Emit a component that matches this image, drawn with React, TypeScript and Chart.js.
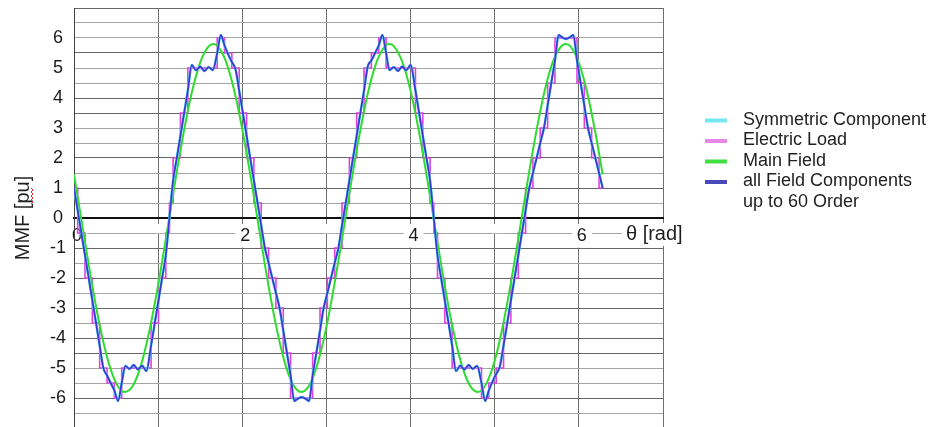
import React, { useEffect, useRef } from "react";
import { Chart, registerables } from "chart.js";

Chart.register(...registerables);

const FONT = '"Liberation Sans", Arial, Helvetica, sans-serif';

// ---- axis values ----
const thetaMin = 0;
const thetaMax = 7;
const thetaLabeled = [0, 2, 4, 6];
const mmfMin = -7;
const mmfMax = 7;
const mmfLabeled = [6, 5, 4, 3, 2, 1, 0, -1, -2, -3, -4, -5, -6];
const darkGridValues = [7, 5.5, 4, 3.5, 2, 1, -1, -2, -3, -4, -4.5, -6];

// ---- series names ----
const nameSymmetric = "Symmetric Component";
const nameLoad = "Electric Load";
const nameMain = "Main Field";
const nameAll = ["all Field Components", "up to 60 Order"];

// ---- Electric Load: staircase (theta where level changes, new level) ----
const loadSteps: [number, number][] = [
  [0.0, 1], [0.044, -0.5], [0.131, -2], [0.218, -3.5], [0.305, -5], [0.393, -5.5],
  [0.48, -6], [0.567, -5], [0.916, -3.5], [1.004, -2], [1.091, -0.5], [1.134, 0.5],
  [1.178, 2], [1.265, 3.5], [1.353, 5], [1.702, 6], [1.789, 5.5], [1.876, 5],
  [1.963, 3.5], [2.051, 2], [2.138, 0.5], [2.225, -1], [2.313, -2], [2.4, -3],
  [2.487, -4.5], [2.574, -6], [2.836, -4.5], [2.924, -3], [3.011, -2], [3.098, -1],
  [3.185, 0.5], [3.273, 2], [3.36, 3.5], [3.447, 5], [3.534, 5.5], [3.622, 6],
  [3.709, 5], [4.058, 3.5], [4.145, 2], [4.232, 0.5], [4.276, -0.5], [4.32, -2],
  [4.407, -3.5], [4.494, -5], [4.843, -6], [4.93, -5.5], [5.018, -5], [5.105, -3.5],
  [5.192, -2], [5.28, -0.5], [5.367, 1], [5.454, 2], [5.541, 3], [5.629, 4.5],
  [5.716, 6], [5.978, 4.5], [6.065, 3], [6.152, 2], [6.24, 1], [6.283, 1],
];

// ---- Main Field (theta, MMF) ----
const mainField: [number, number][] = [
  [0.0, 1.45], [0.1, -0.27], [0.2, -1.98], [0.3, -3.5], [0.4, -4.71], [0.5, -5.5],
  [0.6, -5.8], [0.7, -5.59], [0.8, -4.87], [0.9, -3.71], [1.0, -2.23], [1.1, -0.55],
  [1.2, 1.18], [1.3, 2.8], [1.4, 4.18], [1.5, 5.19], [1.6, 5.72], [1.655, 5.8],
  [1.7, 5.75], [1.8, 5.26], [1.9, 4.3], [2.0, 2.96], [2.1, 1.36], [2.2, -0.37],
  [2.3, -2.07], [2.4, -3.57], [2.5, -4.77], [2.6, -5.53], [2.7, -5.8], [2.8, -5.56],
  [2.9, -4.81], [3.0, -3.63], [3.1, -2.13], [3.2, -0.45], [3.3, 1.28], [3.4, 2.88],
  [3.5, 4.25], [3.6, 5.23], [3.7, 5.74], [3.75, 5.8], [3.8, 5.73], [3.9, 5.22],
  [4.0, 4.24], [4.1, 2.87], [4.2, 1.26], [4.3, -0.47], [4.4, -2.16], [4.5, -3.65],
  [4.6, -4.82], [4.7, -5.56], [4.8, -5.8], [4.9, -5.52], [5.0, -4.76], [5.1, -3.55],
  [5.2, -2.04], [5.3, -0.35], [5.4, 1.38], [5.5, 2.97], [5.6, 4.32], [5.7, 5.27],
  [5.8, 5.75], [5.845, 5.8], [5.9, 5.72], [6.0, 5.17], [6.1, 4.17], [6.2, 2.79],
  [6.283, 1.45],
];

// ---- all Field Components up to 60 Order (theta, MMF) ----
const allComponents: [number, number][] = [
  [0.0, 1.0], [0.044, 0.25], [0.087, -0.5], [0.131, -1.25], [0.175, -2.0], [0.218, -2.75],
  [0.262, -3.5], [0.305, -4.25], [0.349, -5.0], [0.393, -5.25], [0.436, -5.5], [0.48, -5.75],
  [0.524, -6.1], [0.567, -5.5], [0.61, -4.93], [0.66, -5.03], [0.71, -4.9], [0.76, -5.05],
  [0.81, -4.92], [0.86, -5.1], [0.916, -4.25], [0.96, -3.5], [1.004, -2.75], [1.047, -2.0],
  [1.091, -1.25], [1.134, 0.0], [1.178, 1.25], [1.222, 2.0], [1.265, 2.75], [1.309, 3.5],
  [1.353, 4.25], [1.4, 5.1], [1.45, 4.92], [1.5, 5.05], [1.55, 4.9], [1.6, 5.03],
  [1.65, 4.93], [1.702, 5.5], [1.745, 6.1], [1.789, 5.75], [1.833, 5.45], [1.876, 5.2],
  [1.92, 4.95], [1.963, 4.25], [2.007, 3.5], [2.051, 2.75], [2.094, 2.0], [2.138, 1.25],
  [2.182, 0.5], [2.225, -0.25], [2.269, -1.0], [2.313, -1.5], [2.356, -2.0], [2.4, -2.5],
  [2.443, -3.0], [2.487, -3.75], [2.531, -4.5], [2.574, -5.25], [2.618, -6.1], [2.662, -6.02],
  [2.705, -5.97], [2.749, -6.02], [2.793, -6.1], [2.836, -5.25], [2.88, -4.5], [2.924, -3.75],
  [2.967, -3.0], [3.011, -2.5], [3.054, -2.0], [3.098, -1.5], [3.142, -1.0], [3.185, -0.25],
  [3.229, 0.5], [3.273, 1.25], [3.316, 2.0], [3.36, 2.75], [3.403, 3.5], [3.447, 4.25],
  [3.491, 5.05], [3.534, 5.25], [3.578, 5.5], [3.622, 5.75], [3.665, 6.1], [3.709, 5.5],
  [3.75, 4.93], [3.8, 5.03], [3.85, 4.9], [3.9, 5.05], [3.95, 4.92], [4.0, 5.1],
  [4.058, 4.25], [4.102, 3.5], [4.145, 2.75], [4.189, 2.0], [4.232, 1.25], [4.276, 0.0],
  [4.32, -1.25], [4.363, -2.0], [4.407, -2.75], [4.451, -3.5], [4.494, -4.25], [4.54, -5.1],
  [4.59, -4.92], [4.64, -5.05], [4.69, -4.9], [4.74, -5.03], [4.79, -4.93], [4.843, -5.5],
  [4.887, -6.1], [4.93, -5.75], [4.974, -5.45], [5.018, -5.2], [5.061, -4.95], [5.105, -4.25],
  [5.149, -3.5], [5.192, -2.75], [5.236, -2.0], [5.28, -1.25], [5.323, -0.5], [5.367, 0.25],
  [5.411, 1.0], [5.454, 1.5], [5.498, 2.0], [5.541, 2.5], [5.585, 3.0], [5.629, 3.75],
  [5.672, 4.5], [5.716, 5.25], [5.76, 6.1], [5.803, 6.02], [5.847, 5.97], [5.89, 6.02],
  [5.934, 6.1], [5.978, 5.25], [6.021, 4.5], [6.065, 3.75], [6.109, 3.0], [6.152, 2.5],
  [6.196, 2.0], [6.24, 1.5], [6.283, 1.0],
];

// ---- colours ----
const colorSymmetric = "#66e4f0";
const colorLoad = "#e040e0";
const colorMain = "#2edc2e";
const colorAll = "#3a3ad2";

const toXY = (pts: [number, number][]) => pts.map(([x, y]) => ({ x, y }));

const legendEntries = [
  { lines: [nameSymmetric], color: colorSymmetric },
  { lines: [nameLoad], color: "#e27ae4" },
  { lines: [nameMain], color: colorMain },
  { lines: nameAll, color: "#3535b2" },
];

const overlayPlugin = {
  id: "overlay",
  afterDraw(chart: any) {
    const ctx = chart.ctx as CanvasRenderingContext2D;
    const xs = chart.scales.x;
    const ys = chart.scales.y;
    ctx.save();
    // x axis title with white box
    ctx.font = `20px ${FONT}`;
    const t = "θ [rad]";
    const tw = ctx.measureText(t).width;
    const tx = xs.getPixelForValue(6.56);
    const ty = ys.getPixelForValue(0) + 16;
    ctx.fillStyle = "#ffffff";
    ctx.fillRect(tx - 4, ty - 11, tw + 8, 23);
    ctx.fillStyle = "#1e1e1e";
    ctx.textBaseline = "middle";
    ctx.textAlign = "left";
    ctx.fillText(t, tx, ty);

    // legend
    ctx.font = `18px ${FONT}`;
    let row = 0;
    const baseY = 120;
    const rowH = 20.5;
    legendEntries.forEach((e) => {
      const y = baseY + row * rowH;
      ctx.fillStyle = e.color;
      ctx.globalAlpha = 0.9;
      ctx.fillRect(705, y - 1.5, 22, 4);
      ctx.globalAlpha = 1;
      ctx.fillStyle = "#222222";
      e.lines.forEach((ln, i) => {
        ctx.fillText(ln, 743, baseY + (row + i) * rowH);
      });
      row += e.lines.length;
    });

    // spell-check squiggle under "[pu]"
    ctx.strokeStyle = "#e02828";
    ctx.lineWidth = 1;
    ctx.beginPath();
    for (let i = 0; i <= 8; i++) {
      const yy = 188 + i * 2;
      const xx = i % 2 === 0 ? 31 : 33;
      if (i === 0) ctx.moveTo(xx, yy);
      else ctx.lineTo(xx, yy);
    }
    ctx.stroke();
    ctx.restore();
  },
};

export default function App() {
  const ref = useRef<HTMLCanvasElement | null>(null);

  useEffect(() => {
    if (!ref.current) return;
    const chart = new Chart(ref.current, {
      type: "line",
      data: {
        datasets: [
          {
            label: nameLoad,
            data: toXY(loadSteps),
            borderColor: colorLoad,
            borderWidth: 1.6,
            stepped: true,
            pointRadius: 0,
            order: 4,
          },
          {
            label: nameMain,
            data: toXY(mainField),
            borderColor: colorMain,
            borderWidth: 2,
            cubicInterpolationMode: "monotone",
            pointRadius: 0,
            order: 3,
          },
          {
            label: nameSymmetric,
            data: toXY(allComponents),
            borderColor: colorSymmetric,
            borderWidth: 2.6,
            cubicInterpolationMode: "monotone",
            pointRadius: 0,
            order: 2,
          },
          {
            label: nameAll.join(" "),
            data: toXY(allComponents),
            borderColor: colorAll,
            borderWidth: 1.8,
            cubicInterpolationMode: "monotone",
            pointRadius: 0,
            order: 1,
          },
        ],
      },
      options: {
        responsive: false,
        animation: false,
        devicePixelRatio: 1,
        layout: { padding: { left: 0, top: 8, right: 269, bottom: 12 } },
        plugins: {
          legend: { display: false },
          tooltip: { enabled: false },
        },
        scales: {
          x: {
            type: "linear",
            position: { y: 0 } as any,
            min: thetaMin,
            max: thetaMax,
            afterFit: (s: any) => {
              s.paddingLeft = 0;
              s.paddingRight = 0;
            },
            grid: { color: "#6f6f6f", lineWidth: 1, drawTicks: false },
            border: { display: true, color: "#111111", width: 2 },
            ticks: {
              stepSize: 1,
              autoSkip: false,
              maxRotation: 0,
              padding: 7,
              labelOffset: 3,
              color: "#1a1a1a",
              font: (c: any) => ({
                family: FONT,
                size: c.tick && thetaLabeled.indexOf(c.tick.value) < 0 ? 6 : 18,
              }),
              showLabelBackdrop: true,
              backdropColor: "#ffffff",
              backdropPadding: { top: 1, bottom: 1, left: 5, right: 5 },
              callback: (v: any) => (thetaLabeled.indexOf(Number(v)) >= 0 ? String(v) : ""),
            },
          },
          y: {
            type: "linear",
            min: mmfMin,
            max: mmfMax,
            afterFit: (s: any) => {
              s.width = 74;
              s.paddingTop = 0;
              s.paddingBottom = 0;
            },
            grid: {
              drawTicks: false,
              lineWidth: 1,
              color: (c: any) => {
                const v = c.tick ? c.tick.value : 1;
                if (v === 0) return "rgba(0,0,0,0)";
                return darkGridValues.indexOf(v) >= 0 ? "#666666" : "#a4a4a4";
              },
            },
            border: { display: true, color: "#444444", width: 1 },
            title: {
              display: true,
              text: "MMF [pu]",
              color: "#1e1e1e",
              font: { family: FONT, size: 20 },
              padding: { top: 11, bottom: 0 },
            },
            ticks: {
              stepSize: 0.5,
              autoSkip: false,
              crossAlign: "center",
              padding: 8,
              color: "#1a1a1a",
              font: { family: FONT, size: 18 },
              callback: (v: any) => (mmfLabeled.indexOf(Number(v)) >= 0 ? String(v) : ""),
            },
          },
        },
      },
      plugins: [overlayPlugin],
    });
    return () => chart.destroy();
  }, []);

  return (
    <div style={{ position: "fixed", left: 0, top: 0, width: 932, height: 440, background: "#fff" }}>
      <canvas ref={ref} width={932} height={440} style={{ display: "block" }} />
    </div>
  );
}
